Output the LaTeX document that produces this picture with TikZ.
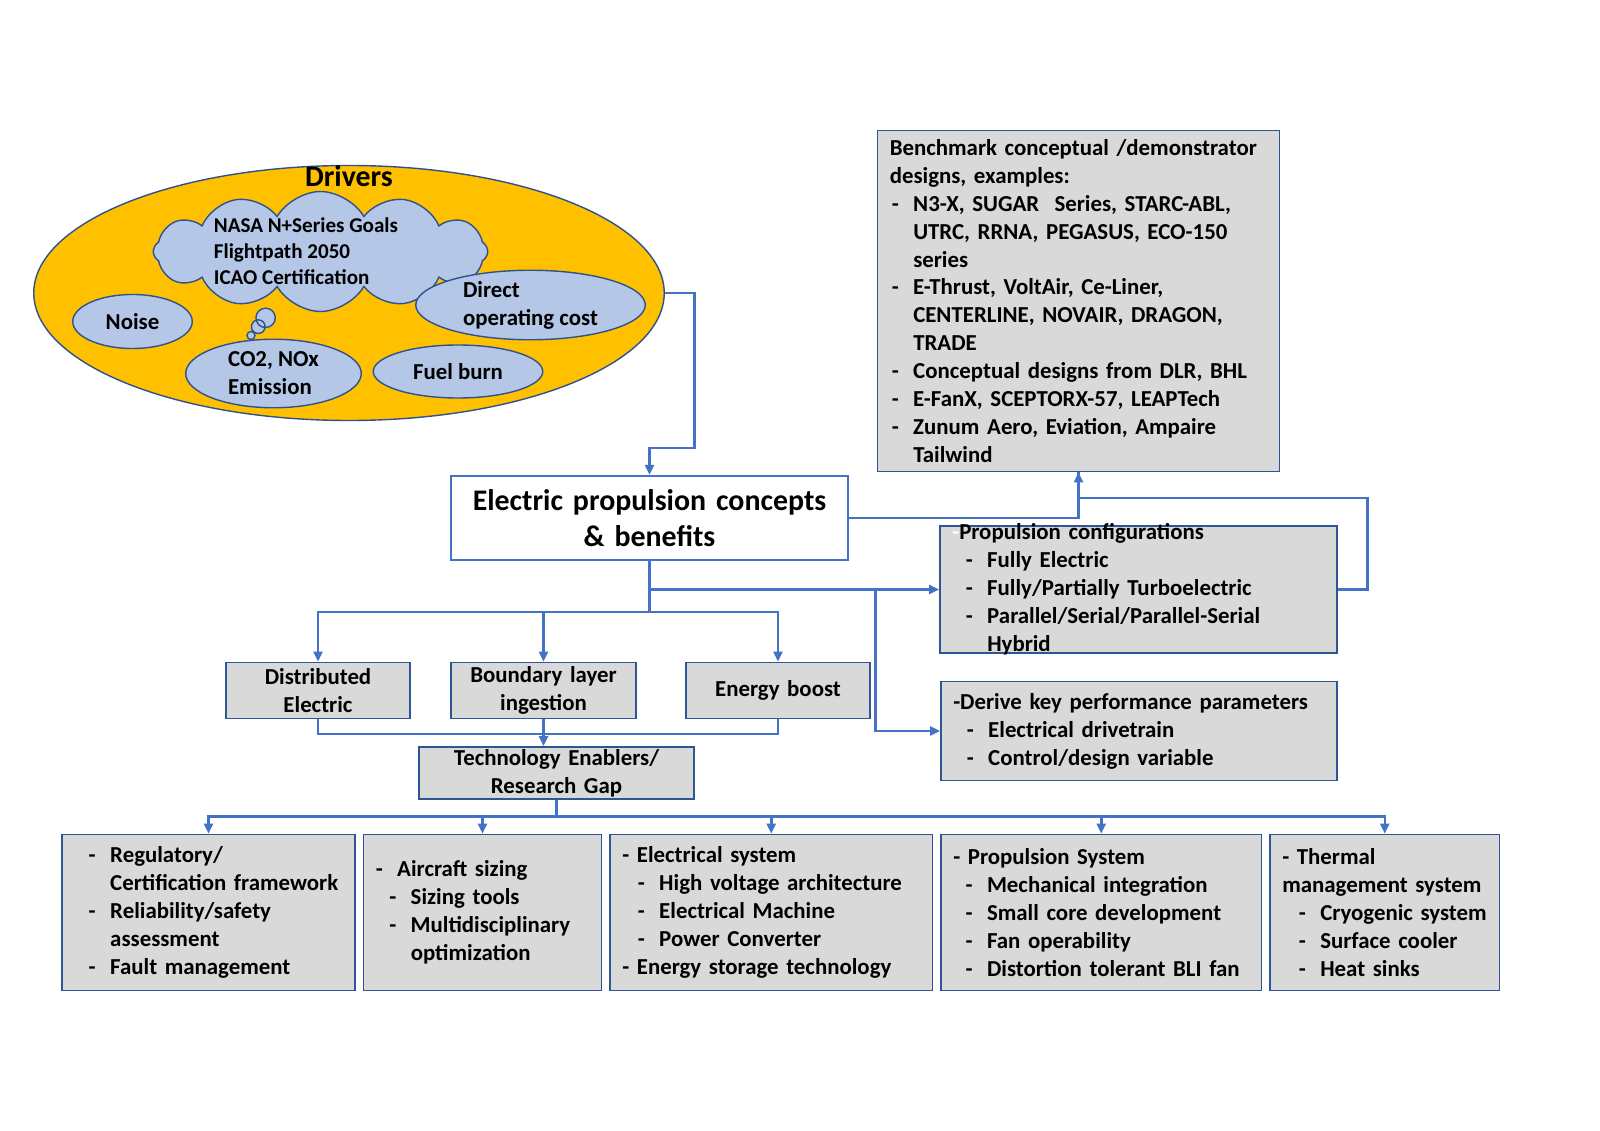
\documentclass[tikz,border=0pt]{standalone}
\usepackage{fontspec}
\setmainfont{Carlito}
\usetikzlibrary{shapes,arrows.meta,positioning}
\definecolor{drvorange}{HTML}{FFC000}
\definecolor{drvblue}{HTML}{B4C7E7}
\definecolor{drvline}{HTML}{2F528F}
\definecolor{boxgray}{HTML}{D9D9D9}
\definecolor{boxline}{HTML}{2F5597}
\definecolor{linkblue}{HTML}{4472C4}
\newcommand{\boxfont}{\bfseries\fontsize{13}{15.9}\selectfont}
\newcommand{\itemdash}[1][0cm]{\hspace*{#1}\makebox[0.43cm][l]{-}}
\tikzset{
    driver/.style = { draw=drvline, fill=drvblue, ellipse, line width=0.8pt,
        inner sep=0pt, align=left,
        font=\boxfont
    },
    stage/.style = { draw=boxline, fill=boxgray, line width=1pt, rectangle,
        align=left,
        inner xsep=0.245cm, inner ysep=0pt,
        font=\boxfont
    },
    concept/.style = { stage, align=center },
    arrow/.style = { draw=linkblue, line width=1.4pt, -{Triangle[length=0.2cm,width=0.18cm]} },
    aline/.style = { draw=linkblue, line width=1.4pt }
}

\begin{document}
\begin{tikzpicture}
        \useasboundingbox (0,0) rectangle (32,-22.61);

        % drivers...
        \node[ellipse, draw=drvline, fill=drvorange, line width=0.8pt, minimum width=12.61cm, minimum height=5.10cm] (drivers) at (6.98,-5.86) {};
        \node[font=\bfseries\fontsize{17}{20}\selectfont] (drvtitle) at (6.98,-3.53) {Drivers};
        \node[cloud callout, draw=drvline, fill=drvblue, line width=0.8pt,
              cloud puffs=12, cloud puff arc=120, cloud ignores aspect,
              minimum width=6.69cm, minimum height=2.40cm,
              callout absolute pointer={(5.02,-6.71)},
              callout pointer start size=0.5cm, callout pointer end size=0.16cm,
              callout pointer segments=3] (goals) at (6.41,-5.03) {};
        \node[align=left, font=\bfseries\fontsize{12}{14.8}\selectfont] (goalstext) at (6.12,-5.02) {NASA N+Series Goals\\ Flightpath 2050\\ ICAO Certification};
        \node[driver, minimum width=2.39cm, minimum height=1.08cm] (noise) at (2.65,-6.43) {Noise};
        \node[driver, minimum width=3.51cm, minimum height=1.37cm] (emission) at (5.47,-7.47) {CO2, NOx\\ Emission};
        \node[driver, minimum width=3.39cm, minimum height=1.06cm] (fuel) at (9.16,-7.43) {Fuel burn};
        \node[driver, minimum width=4.59cm, minimum height=1.39cm] (doc) at (10.61,-6.10) {Direct\\ operating cost};

        % concepts...
        \node[concept, draw=linkblue, fill=white, font=\bfseries\fontsize{17}{20.4}\selectfont, text width=7.45cm, minimum height=1.69cm] (main) at (12.99,-10.36) {Electric propulsion concepts\\ \& benefits};
        \draw[arrow] (drivers.east) -| ++(0.59,-3.10) -| (main.north);

        % right branch...
        \node[stage, text width=7.55cm, minimum height=6.82cm] (bench) at (21.57,-6.02) {
            Benchmark conceptual /demonstrator\\
            designs, examples:\\
            \itemdash[0.04cm]N3-X, SUGAR\ \ Series, STARC-ABL,\\
            \hspace*{0.47cm}UTRC, RRNA, PEGASUS, ECO-150\\
            \hspace*{0.47cm}series\\
            \itemdash[0.04cm]E-Thrust, VoltAir, Ce-Liner,\\
            \hspace*{0.47cm}CENTERLINE, NOVAIR, DRAGON,\\
            \hspace*{0.47cm}TRADE\\
            \itemdash[0.04cm]Conceptual designs from DLR, BHL\\
            \itemdash[0.04cm]E-FanX, SCEPTORX-57, LEAPTech\\
            \itemdash[0.04cm]Zunum Aero, Eviation, Ampaire\\
            \hspace*{0.47cm}Tailwind
        };
        \node[stage, text width=7.45cm, minimum height=2.55cm, inner ysep=-0.2cm] (config) at (22.77,-11.79) {
            {\color{white}-}Propulsion configurations\\
            \itemdash[0.27cm]Fully Electric\\
            \itemdash[0.27cm]Fully/Partially Turboelectric\\
            \itemdash[0.27cm]Parallel/Serial/Parallel-Serial\\
            \hspace*{0.70cm}Hybrid
        };
        \node[stage, text width=7.43cm, minimum height=1.98cm] (derive) at (22.78,-14.62) {
            -Derive key performance parameters\\
            \itemdash[0.27cm]Electrical drivetrain\\
            \itemdash[0.27cm]Control/design variable
        };
        \draw[arrow] (main.east) -| (bench.south);
        \draw[aline] (config.east) -| ++(0.59,1.83) -| (bench.south);
        \coordinate (split) at (17.51,-11.79);
        \draw[arrow] (main.south) |- (config.west);
        \draw[arrow] (split) |- (derive.west);

        % benefits...
        \node[concept, text width=3.2cm, minimum height=1.12cm] (dist) at (6.36,-13.81) {Distributed\\ Electric};
        \node[concept, text width=3.2cm, minimum height=1.12cm] (bli) at (10.87,-13.81) {Boundary layer\\ ingestion};
        \node[concept, text width=3.2cm, minimum height=1.12cm] (boost) at (15.56,-13.81) {Energy boost};
        \foreach \b in {dist,bli,boost}
            \draw[arrow] (main.south) -- ++(0,-1.02) -| (\b.north);

        \node[concept, text width=5.0cm, minimum height=1.04cm] (tech) at (11.13,-15.46) {Technology Enablers/\\ Research Gap};
        \draw[aline] (dist.south) -- ++(0,-0.29) -| (boost.south);
        \draw[arrow] (bli.south) -- (bli.south |- tech.north);

        % research gaps...
        \node[stage, text width=5.37cm, minimum height=3.12cm] (b1) at (4.17,-18.25) {
            \itemdash[0.29cm]Regulatory/\\
            \hspace*{0.72cm}Certification framework\\
            \itemdash[0.29cm]Reliability/safety\\
            \hspace*{0.72cm}assessment\\
            \itemdash[0.29cm]Fault management
        };
        \node[stage, text width=4.27cm, minimum height=3.12cm] (b2) [right=0.135cm of b1] {
            \itemdash Aircraft sizing\\
            \itemdash[0.27cm]Sizing tools\\
            \itemdash[0.27cm]Multidisciplinary\\
            \hspace*{0.70cm}optimization
        };
        \node[stage, text width=5.96cm, minimum height=3.12cm] (b3) [right=0.135cm of b2] {
            - Electrical system\\
            \itemdash[0.31cm]High voltage architecture\\
            \itemdash[0.31cm]Electrical Machine\\
            \itemdash[0.31cm]Power Converter\\
            - Energy storage technology
        };
        \node[stage, text width=5.92cm, minimum height=3.12cm] (b4) [right=0.135cm of b3] {
            - Propulsion System\\
            \itemdash[0.245cm]Mechanical integration\\
            \itemdash[0.245cm]Small core development\\
            \itemdash[0.245cm]Fan operability\\
            \itemdash[0.245cm]Distortion tolerant BLI fan
        };
        \node[stage, text width=4.10cm, minimum height=3.12cm] (b5) [right=0.135cm of b4] {
            - Thermal\\
            management system\\
            \itemdash[0.33cm]Cryogenic system\\
            \itemdash[0.33cm]Surface cooler\\
            \itemdash[0.33cm]Heat sinks
        };
        \foreach \b in {b1,b2,b3,b4,b5}
            \draw[arrow] (tech.south) -- ++(0,-0.33) -| (\b.north);

\end{tikzpicture}
\end{document}
